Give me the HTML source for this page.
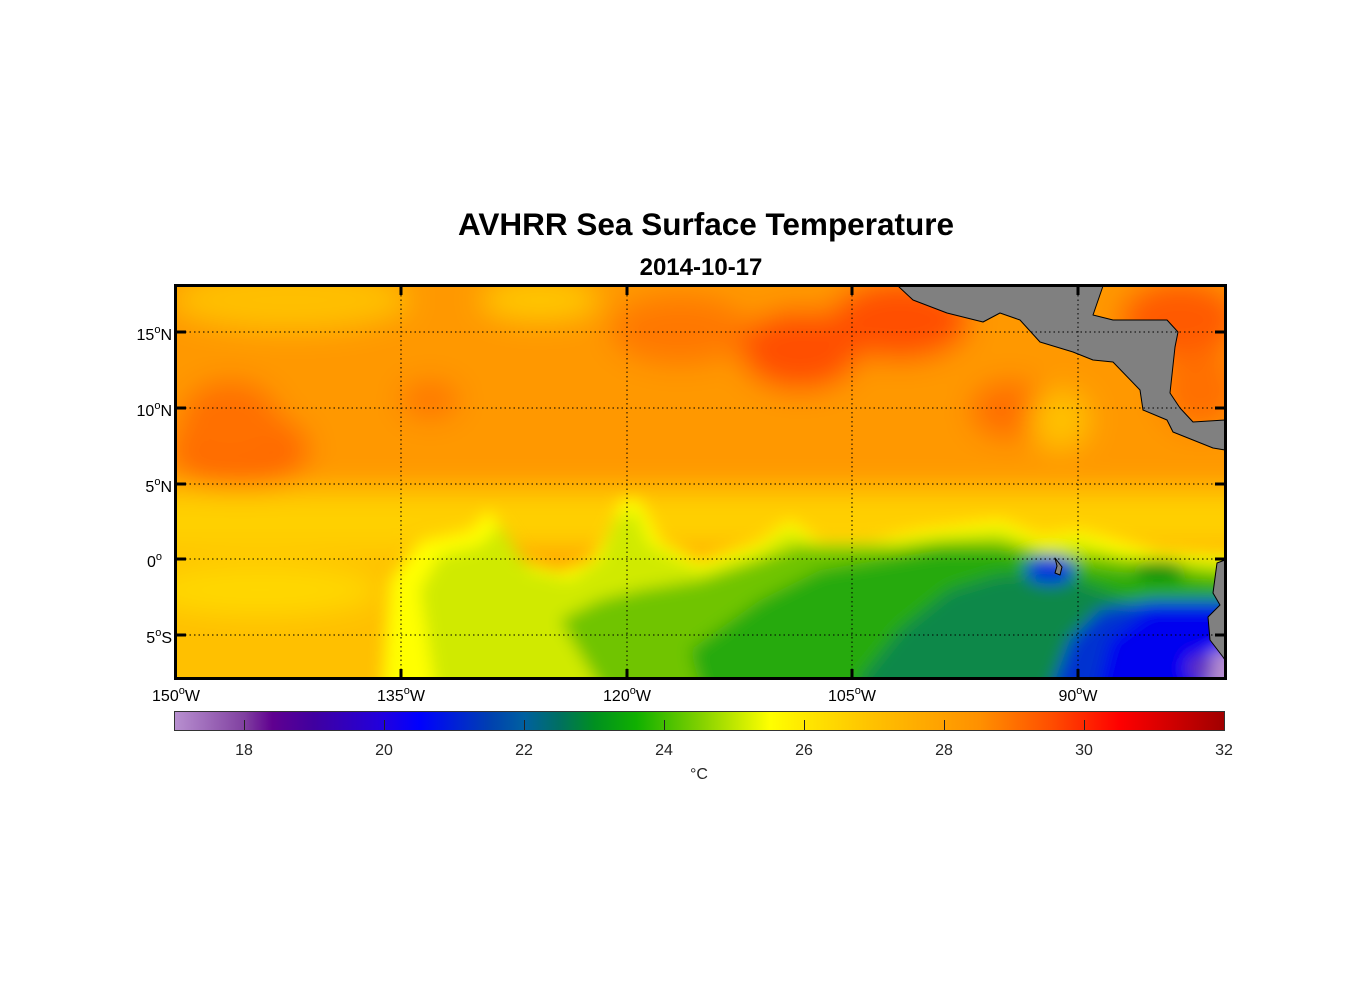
<!DOCTYPE html>
<html><head><meta charset="utf-8"><style>
body{margin:0;background:#fff;width:1356px;height:1000px;overflow:hidden;font-family:"Liberation Sans",Arial,sans-serif}
</style></head><body>
<svg width="1356" height="1000" viewBox="0 0 1356 1000" xmlns="http://www.w3.org/2000/svg" font-family="Liberation Sans, Arial, sans-serif">
<defs>
<filter id="b1" x="-30%" y="-30%" width="160%" height="160%"><feGaussianBlur stdDeviation="14"/></filter>
<filter id="b2" x="-30%" y="-30%" width="160%" height="160%"><feGaussianBlur stdDeviation="8"/></filter>
<clipPath id="mc"><rect x="176" y="286" width="1049" height="392"/></clipPath>
<linearGradient id="cb" x1="0" x2="1" y1="0" y2="0">
<stop offset="0" stop-color="#b890d0"/>
<stop offset="0.0667" stop-color="#8040a0"/>
<stop offset="0.093" stop-color="#600090"/>
<stop offset="0.133" stop-color="#4000a0"/>
<stop offset="0.2" stop-color="#2000e0"/>
<stop offset="0.233" stop-color="#0000ff"/>
<stop offset="0.3" stop-color="#0040b0"/>
<stop offset="0.333" stop-color="#0060a0"/>
<stop offset="0.367" stop-color="#007060"/>
<stop offset="0.4" stop-color="#009020"/>
<stop offset="0.44" stop-color="#10b000"/>
<stop offset="0.5" stop-color="#80d000"/>
<stop offset="0.567" stop-color="#ffff00"/>
<stop offset="0.6" stop-color="#ffe800"/>
<stop offset="0.667" stop-color="#ffc000"/>
<stop offset="0.767" stop-color="#ff9000"/>
<stop offset="0.833" stop-color="#ff5000"/>
<stop offset="0.9" stop-color="#ff0000"/>
<stop offset="1" stop-color="#a00000"/>
</linearGradient>
</defs>
<text x="706" y="235" text-anchor="middle" font-size="31.5" font-weight="bold">AVHRR Sea Surface Temperature</text>
<text x="701" y="275" text-anchor="middle" font-size="24" font-weight="bold">2014-10-17</text>
<g clip-path="url(#mc)">
<rect x="150" y="260" width="1100" height="440" fill="#ffa000"/>
<g filter="url(#b1)">
<rect x="120" y="240" width="1160" height="250" fill="#ff9800"/>
<ellipse cx="290" cy="300" rx="120" ry="30" fill="#ffc000"/>
<ellipse cx="540" cy="300" rx="60" ry="20" fill="#ffc800"/>
<ellipse cx="240" cy="450" rx="70" ry="40" fill="#ff6a00"/>
<ellipse cx="230" cy="420" rx="50" ry="40" fill="#ff7000"/>
<ellipse cx="430" cy="400" rx="30" ry="20" fill="#ff7800"/>
<ellipse cx="680" cy="330" rx="70" ry="35" fill="#ff7800"/>
<ellipse cx="800" cy="350" rx="60" ry="40" fill="#ff5000"/>
<ellipse cx="900" cy="320" rx="70" ry="40" fill="#ff5000"/>
<ellipse cx="1010" cy="410" rx="40" ry="30" fill="#ff7000"/>
<ellipse cx="1180" cy="320" rx="60" ry="40" fill="#ff5a00"/>
<ellipse cx="1200" cy="390" rx="40" ry="40" fill="#ff7000"/>
<ellipse cx="1060" cy="420" rx="30" ry="30" fill="#ffc000"/>
<rect x="120" y="490" width="1160" height="60" fill="#ffd000"/>
<rect x="120" y="550" width="300" height="160" fill="#ffc000"/>
<ellipse cx="260" cy="590" rx="120" ry="25" fill="#ffd800"/>
</g>
<g filter="url(#b2)">
<path d="M390 580 L420 540 L470 530 L490 510 L520 560 L560 570 L590 560 L610 530 L620 500 L640 500 L660 540 L700 560 L760 540 L790 520 L820 540 L870 540 L920 530 L960 525 L1000 520 L1040 535 L1080 530 L1120 540 L1160 550 L1260 555 L1260 720 L380 720Z" fill="#ffff00"/>
<path d="M420 590 L440 555 L480 545 L500 525 L530 570 L570 580 L600 560 L615 520 L635 510 L650 545 L700 570 L760 550 L790 530 L820 550 L870 550 L920 540 L960 535 L1000 530 L1040 545 L1080 540 L1120 555 L1260 565 L1260 720 L440 720Z" fill="#d0ea00"/>
<path d="M560 620 L600 600 L640 590 L700 580 L760 560 L800 545 L850 545 L900 545 L940 540 L1000 540 L1050 555 L1100 555 L1260 575 L1260 720 L620 720Z" fill="#70c400"/>
<path d="M690 650 L760 600 L820 570 L880 560 L940 550 L1000 550 L1050 560 L1100 570 L1260 585 L1260 720 L710 720Z" fill="#28aa08"/>
<path d="M860 680 L900 630 L950 590 L1000 575 L1060 575 L1100 590 L1150 610 L1260 610 L1260 720 L860 720Z" fill="#108848"/>
<ellipse cx="1050" cy="570" rx="25" ry="14" fill="#0030e0"/>
<path d="M1040 720 L1070 640 L1100 610 L1150 600 L1260 600 L1260 720Z" fill="#0030d0"/>
<path d="M1090 720 L1110 640 L1150 610 L1210 610 L1260 620 L1260 720Z" fill="#0000f0"/>
<ellipse cx="1225" cy="672" rx="24" ry="22" fill="#b890d0"/>
<ellipse cx="1200" cy="668" rx="14" ry="14" fill="#6030c0"/>
<ellipse cx="1160" cy="570" rx="25" ry="10" fill="#109010"/>
</g>
</g>
<g fill="#808080" stroke="#000" stroke-width="1" stroke-linejoin="round">
<path d="M898 286 L1103 286 L1093 315 L1113 320 L1167 320 L1178 332 L1175 347 L1170 393 L1180 408 L1193 422 L1225 420 L1225 450 L1213 448 L1173 432 L1167 420 L1143 410 L1140 390 L1113 362 L1093 360 L1073 352 L1040 342 L1020 320 L1000 313 L983 322 L947 313 L913 300 Z"/>
<path d="M1225 560 L1217 563 L1213 593 L1220 605 L1208 617 L1210 640 L1223 657 L1225 660 Z"/>
<path d="M1055 558 L1062 567 L1060 575 L1055 573 L1057 566 Z"/>
</g>
<g stroke="#000" stroke-width="1" stroke-dasharray="1.5,3" fill="none">
<line x1="401" y1="286" x2="401" y2="678"/><line x1="627" y1="286" x2="627" y2="678"/>
<line x1="852" y1="286" x2="852" y2="678"/><line x1="1078" y1="286" x2="1078" y2="678"/>
<line x1="176" y1="332" x2="1225" y2="332"/><line x1="176" y1="408" x2="1225" y2="408"/>
<line x1="176" y1="484" x2="1225" y2="484"/><line x1="176" y1="559" x2="1225" y2="559"/>
<line x1="176" y1="635" x2="1225" y2="635"/>
</g>
<rect x="175.5" y="285.5" width="1050" height="393" fill="none" stroke="#000" stroke-width="3"/>
<g stroke="#000" stroke-width="3">
<line x1="401" y1="286" x2="401" y2="295"/><line x1="627" y1="286" x2="627" y2="295"/><line x1="852" y1="286" x2="852" y2="295"/><line x1="1078" y1="286" x2="1078" y2="295"/>
<line x1="401" y1="678" x2="401" y2="669"/><line x1="627" y1="678" x2="627" y2="669"/><line x1="852" y1="678" x2="852" y2="669"/><line x1="1078" y1="678" x2="1078" y2="669"/>
<line x1="176" y1="332" x2="186" y2="332"/><line x1="176" y1="408" x2="186" y2="408"/><line x1="176" y1="484" x2="186" y2="484"/><line x1="176" y1="559" x2="186" y2="559"/><line x1="176" y1="635" x2="186" y2="635"/>
<line x1="1225" y1="332" x2="1215" y2="332"/><line x1="1225" y1="408" x2="1215" y2="408"/><line x1="1225" y1="484" x2="1215" y2="484"/><line x1="1225" y1="559" x2="1215" y2="559"/><line x1="1225" y1="635" x2="1215" y2="635"/>
</g>
<g font-size="16" fill="#000" text-anchor="end">
<text x="172" y="340">15<tspan font-size="11" dy="-7">o</tspan><tspan dy="7">N</tspan></text>
<text x="172" y="416">10<tspan font-size="11" dy="-7">o</tspan><tspan dy="7">N</tspan></text>
<text x="172" y="492">5<tspan font-size="11" dy="-7">o</tspan><tspan dy="7">N</tspan></text>
<text x="162" y="567">0<tspan font-size="11" dy="-7">o</tspan></text>
<text x="172" y="643">5<tspan font-size="11" dy="-7">o</tspan><tspan dy="7">S</tspan></text>
</g>
<g font-size="16" fill="#000" text-anchor="middle">
<text x="176" y="701">150<tspan font-size="11" dy="-7">o</tspan><tspan dy="7">W</tspan></text>
<text x="401" y="701">135<tspan font-size="11" dy="-7">o</tspan><tspan dy="7">W</tspan></text>
<text x="627" y="701">120<tspan font-size="11" dy="-7">o</tspan><tspan dy="7">W</tspan></text>
<text x="852" y="701">105<tspan font-size="11" dy="-7">o</tspan><tspan dy="7">W</tspan></text>
<text x="1078" y="701">90<tspan font-size="11" dy="-7">o</tspan><tspan dy="7">W</tspan></text>
</g>
<rect x="174.5" y="711.5" width="1050" height="19" fill="url(#cb)" stroke="#333" stroke-width="1"/>
<g stroke="#222" stroke-width="1">
<line x1="244.5" y1="720" x2="244.5" y2="730"/><line x1="384.5" y1="720" x2="384.5" y2="730"/><line x1="524.5" y1="720" x2="524.5" y2="730"/><line x1="664.5" y1="720" x2="664.5" y2="730"/><line x1="804.5" y1="720" x2="804.5" y2="730"/><line x1="944.5" y1="720" x2="944.5" y2="730"/><line x1="1084.5" y1="720" x2="1084.5" y2="730"/>
</g>
<g font-size="16" fill="#262626" text-anchor="middle">
<text x="244" y="755">18</text><text x="384" y="755">20</text><text x="524" y="755">22</text><text x="664" y="755">24</text><text x="804" y="755">26</text><text x="944" y="755">28</text><text x="1084" y="755">30</text><text x="1224" y="755">32</text>
<text x="699" y="779">°C</text>
</g>
</svg>
</body></html>
